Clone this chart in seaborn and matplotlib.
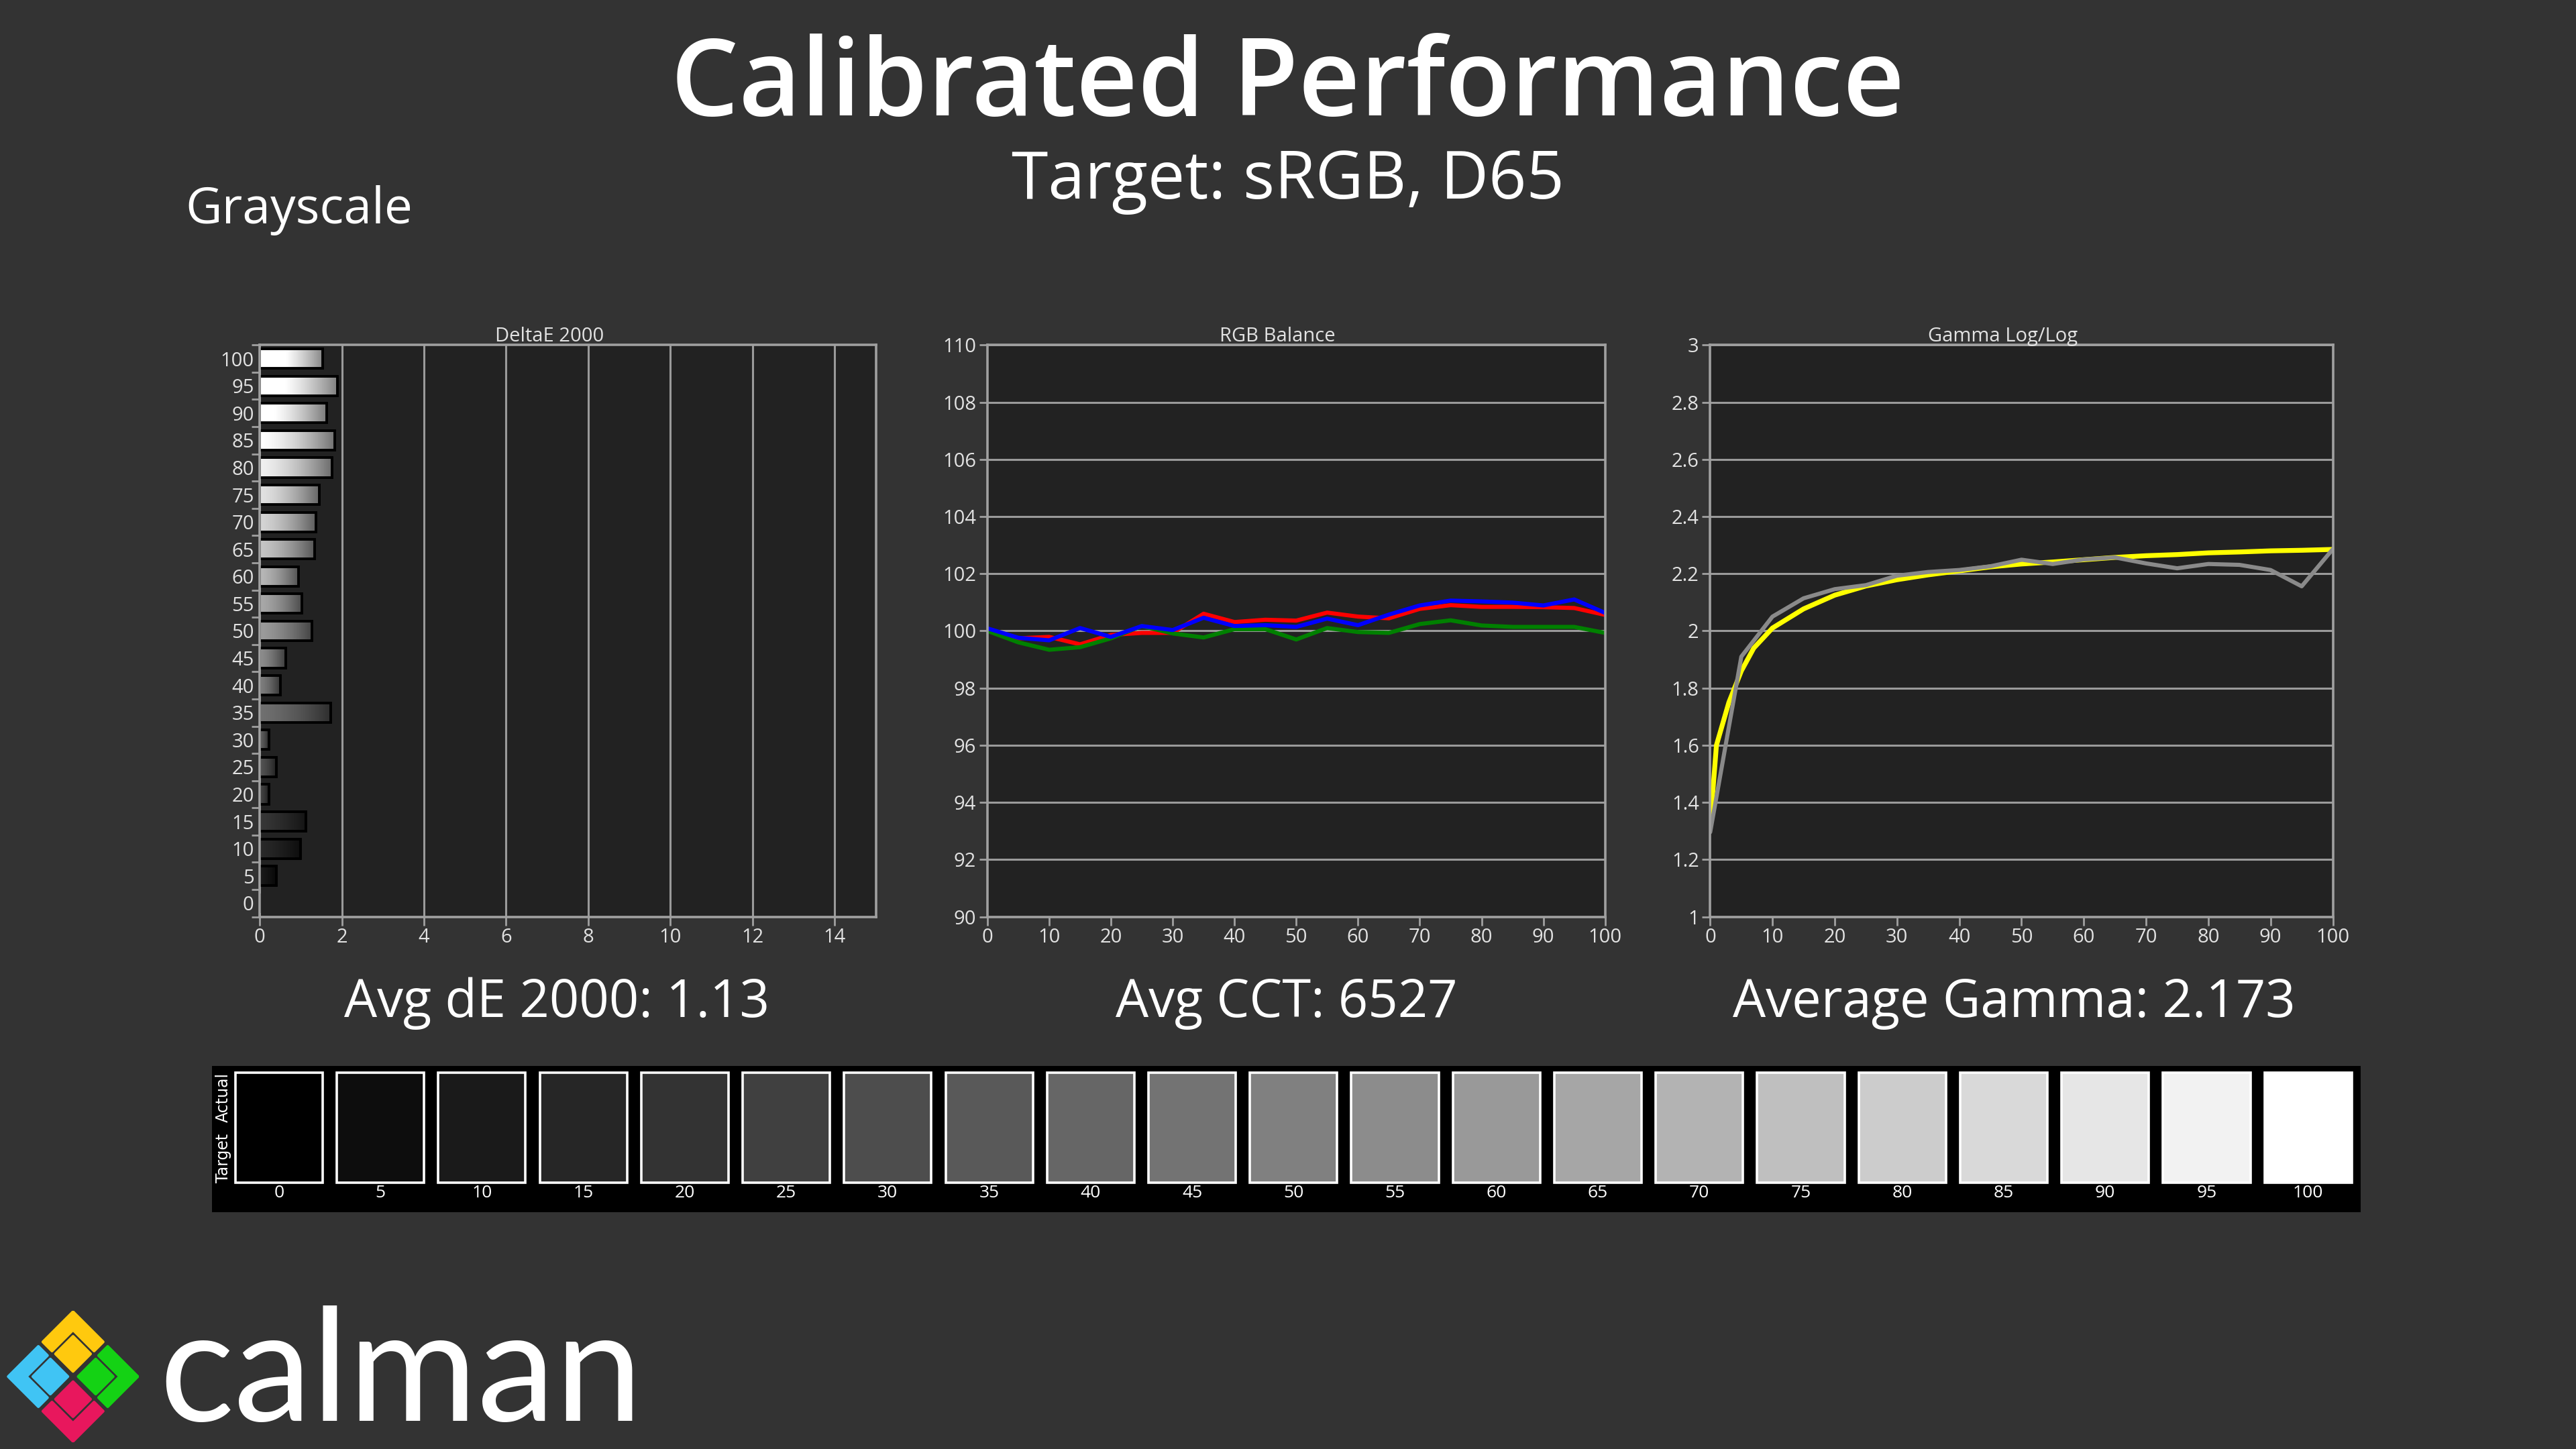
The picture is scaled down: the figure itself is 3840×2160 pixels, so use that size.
import numpy as np
import pandas as pd
import matplotlib.pyplot as plt
from matplotlib.patches import Polygon
from matplotlib.ticker import FuncFormatter
import seaborn as sns

# grey stimulus levels (%)
levels = [0, 5, 10, 15, 20, 25, 30, 35, 40, 45, 50, 55, 60, 65, 70, 75, 80, 85, 90, 95, 100]

# DeltaE 2000 per level
delta_e = [0.0, 0.41, 0.99, 1.12, 0.23, 0.40, 0.22, 1.73, 0.50, 0.63, 1.28,
           1.03, 0.95, 1.33, 1.37, 1.46, 1.77, 1.82, 1.64, 1.90, 1.54]

# RGB balance per level
red = [100.06, 99.74, 99.79, 99.53, 99.86, 99.93, 99.93, 100.60, 100.31, 100.39, 100.36,
       100.64, 100.50, 100.44, 100.77, 100.90, 100.84, 100.84, 100.83, 100.80, 100.56]
green = [100.00, 99.60, 99.34, 99.43, 99.74, 100.17, 99.91, 99.77, 100.06, 100.06, 99.70,
         100.10, 99.96, 99.93, 100.24, 100.37, 100.19, 100.14, 100.14, 100.14, 99.93]
blue = [100.09, 99.76, 99.67, 100.10, 99.79, 100.17, 100.03, 100.46, 100.17, 100.20, 100.14,
        100.43, 100.20, 100.57, 100.89, 101.06, 101.03, 100.99, 100.89, 101.10, 100.63]

# gamma target curve
gamma_x = [0, 1, 3, 5, 7, 10, 15, 20, 25, 30, 35, 40, 45, 50, 55, 60, 65, 70, 75, 80, 85, 90, 95, 100]
gamma_target = [1.32, 1.60, 1.75, 1.86, 1.94, 2.01, 2.077, 2.125, 2.157, 2.179, 2.196, 2.21,
                2.224, 2.234, 2.241, 2.249, 2.257, 2.263, 2.267, 2.273, 2.276, 2.28, 2.282, 2.285]
# measured gamma per level
gamma_measured = [1.296, 1.91, 2.05, 2.114, 2.146, 2.16, 2.193, 2.206, 2.213, 2.226, 2.249,
                  2.234, 2.25, 2.257, 2.236, 2.219, 2.234, 2.231, 2.213, 2.156, 2.286]

# patch grey (0-255) shown in the swatch strip
swatch_grey = [0, 13, 26, 38, 51, 64, 77, 89, 102, 115, 128, 140, 153, 166, 179, 191, 204, 217, 230, 242, 255]

BG = '#333333'
PLOT_BG = '#222222'
FRAME = '#a0a0a0'
GRID = '#9a9a9a'
TXT = '#e2e2e2'

sns.set_theme(style='dark', rc={'figure.facecolor': BG, 'axes.facecolor': PLOT_BG,
                                'axes.edgecolor': FRAME, 'text.color': 'white'})
plt.rcParams['font.family'] = ['Open Sans', 'DejaVu Sans']

fig = plt.figure(figsize=(19.2, 10.8), dpi=200)
fig.set_facecolor(BG)


def style_axes(ax, title):
    ax.set_facecolor(PLOT_BG)
    for s in ax.spines.values():
        s.set_visible(True)
        s.set_color(FRAME)
        s.set_linewidth(1.3)
    ax.tick_params(colors=FRAME, labelcolor=TXT, labelsize=10.5, length=4.5, width=1.0,
                   direction='out', pad=1.5, left=True, bottom=True)
    ax.set_title(title, color=TXT, fontsize=10.5, pad=2, x=0.47)
    ax.set_xlabel('')
    ax.set_ylabel('')
    ax.set_axisbelow(True)


lvl_str = [str(l) for l in levels]
pal = {s: (g / 255, g / 255, g / 255) for s, g in zip(lvl_str, swatch_grey)}

# ---- DeltaE 2000 ----
ax1 = fig.add_axes([0.1008, 0.3673, 0.2392, 0.3946])
order = lvl_str[::-1]
de_df = pd.DataFrame({'level': lvl_str, 'dE': delta_e})
sns.barplot(data=de_df, x='dE', y='level', hue='level', order=order, hue_order=order,
            palette=pal, legend=False, width=0.72, orient='h', ax=ax1,
            edgecolor='black', linewidth=1.4)
for bar in list(ax1.patches):
    w = bar.get_width()
    if w <= 0:
        continue
    base = np.array(bar.get_facecolor()[:3])
    ramp = np.linspace(0, 1, 128)[:, None]
    shade = np.clip(base[None, :] * (1.12 - 0.6 * ramp ** 1.6) + 0.05 * (1 - ramp), 0, 1)
    img = ax1.imshow(shade[None, :, :], extent=(bar.get_x(), bar.get_x() + w,
                                                bar.get_y() + bar.get_height(), bar.get_y()),
                     aspect='auto', interpolation='bilinear', zorder=bar.get_zorder() - 0.05)
    img.set_clip_path(bar)
    bar.set_facecolor('none')
style_axes(ax1, 'DeltaE 2000')
ax1.set_xlim(0, 15)
ax1.set_ylim(20.5, -0.5)
ax1.set_xticks(range(0, 15, 2))
ax1.set_yticks(np.arange(-0.5, 21, 1), minor=True)
ax1.tick_params(axis='y', which='major', length=0, pad=3)
ax1.tick_params(axis='y', which='minor', length=4.5, width=1.0, color=FRAME, left=True)
ax1.grid(axis='x', color=GRID, lw=1.1)
ax1.grid(axis='y', visible=False)

# ---- RGB Balance ----
ax2 = fig.add_axes([0.3833, 0.3673, 0.2398, 0.3946])
rgb_df = pd.DataFrame({'level': levels * 3, 'value': red + green + blue,
                       'channel': ['Red'] * 21 + ['Green'] * 21 + ['Blue'] * 21})
sns.lineplot(data=rgb_df, x='level', y='value', hue='channel',
             palette={'Red': '#ff0000', 'Green': '#008000', 'Blue': '#0000ff'},
             legend=False, lw=2.2, ax=ax2)
style_axes(ax2, 'RGB Balance')
ax2.set_xlim(0, 100)
ax2.set_ylim(90, 110)
ax2.set_xticks(range(0, 101, 10))
ax2.set_yticks(range(90, 111, 2))
ax2.grid(axis='y', color=GRID, lw=1.1)
ax2.grid(axis='x', visible=False)

# ---- Gamma Log/Log ----
ax3 = fig.add_axes([0.6639, 0.3673, 0.2417, 0.3946])
sns.lineplot(x=gamma_x, y=gamma_target, color='#ffff00', lw=2.6, ax=ax3)
sns.lineplot(x=levels, y=gamma_measured, color='#8a8a8a', lw=2.2, ax=ax3)
style_axes(ax3, 'Gamma Log/Log')
ax3.set_xlim(0, 100)
ax3.set_ylim(1, 3)
ax3.set_xticks(range(0, 101, 10))
ax3.set_yticks(np.arange(1.0, 3.01, 0.2))
ax3.yaxis.set_major_formatter(FuncFormatter(lambda v, p: f'{v:g}'))
ax3.grid(axis='y', color=GRID, lw=1.1)
ax3.grid(axis='x', visible=False)

# ---- swatch strip ----
ax4 = fig.add_axes([0.0823, 0.1633, 0.8342, 0.1009])
sw_df = pd.DataFrame({'level': lvl_str, 'h': [1] * len(lvl_str)})
sns.barplot(data=sw_df, x='level', y='h', hue='level', order=lvl_str, hue_order=lvl_str,
            palette=pal, legend=False, width=0.86, edgecolor='white', linewidth=1.3, ax=ax4)
ax4.set_facecolor('black')
for s in ax4.spines.values():
    s.set_visible(False)
ax4.set_xlim(-0.66, 20.52)
ax4.set_ylim(-0.268, 1.06)
ax4.set_yticks([])
ax4.set_xlabel('')
ax4.set_ylabel('')
ax4.tick_params(axis='x', length=0, pad=-15, labelsize=9.5, labelcolor='white')
fig.text(0.0867, 0.2007, 'Target', rotation=90, ha='center', va='center', fontsize=8.5,
         color='white', family=['DejaVu Sans'])
fig.text(0.0867, 0.2426, 'Actual', rotation=90, ha='center', va='center', fontsize=8.5,
         color='white', family=['DejaVu Sans'])

# ---- headings and summary values ----
fig.text(0.5, 0.9206, 'Calibrated Performance', ha='center', va='baseline', fontsize=57.5,
         fontweight='semibold', color='white')
fig.text(0.5, 0.8628, 'Target: sRGB, D65', ha='center', va='baseline', fontsize=35.5, color='white')
fig.text(0.072, 0.8458, 'Grayscale', ha='left', va='baseline', fontsize=27, color='white')
fig.text(0.2162, 0.2982, 'Avg dE 2000: 1.13', ha='center', va='baseline', fontsize=28, color='white')
fig.text(0.4994, 0.2982, 'Avg CCT: 6527', ha='center', va='baseline', fontsize=28, color='white')
fig.text(0.7819, 0.2982, 'Average Gamma: 2.173', ha='center', va='baseline', fontsize=28, color='white')

# ---- calman logo ----
axl = fig.add_axes([0.0027, 0.0044, 0.0513, 0.0912])
axl.set_xlim(-1.02, 1.02)
axl.set_ylim(-1.02, 1.02)
axl.set_aspect('equal')
axl.axis('off')
logo_cols = {(1, 1): '#ffc90e', (-1, 1): '#40c4f4', (1, -1): '#14d214', (-1, -1): '#e8175d'}
t, g, c, h = 0.72, 0.07, 0.35, 0.27
for (sa, sb), col in logo_cols.items():
    chevron = [(1, 1), (1, g), (t, g), (t, t), (g, t), (g, 1)]
    square = [(c - h, c - h), (c + h, c - h), (c + h, c + h), (c - h, c + h)]
    for shape in (chevron, square):
        pts = [((sa * a - sb * b) / 2, (sa * a + sb * b) / 2) for a, b in shape]
        axl.add_patch(Polygon(pts, closed=True, facecolor=col, edgecolor=col,
                              lw=1.5, joinstyle='round'))
fig.text(0.0619, 0.0193, 'calman', ha='left', va='baseline', fontsize=84, color='white',
         family=['Lato', 'DejaVu Sans'])

fig.savefig('out.png', dpi=200, facecolor=BG)
